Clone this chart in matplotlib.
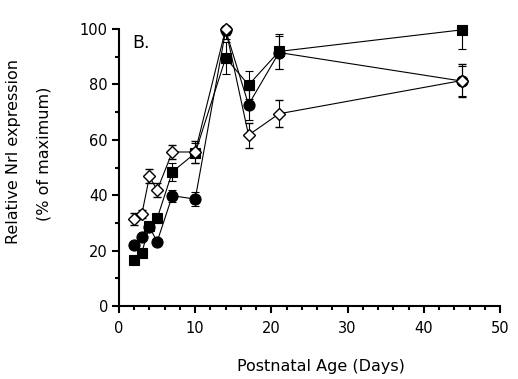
import matplotlib
matplotlib.use("Agg")
import matplotlib.pyplot as plt
from matplotlib.ticker import MultipleLocator

days = [2, 3, 4, 5, 7, 10, 14, 17, 21, 45]

square_vals = [16.6, 19.3, 29.0, 31.6, 48.4, 55.2, 89.6, 79.8, 91.9, 99.7]
square_err_low  = [1.0, 1.0, 1.5, 1.5, 3.2, 3.5, 5.8, 5.0, 6.3, 7.0]
square_err_high = [1.0, 1.0, 1.5, 1.5, 3.2, 3.5, 5.8, 5.0, 6.3, 0.0]

circle_vals = [22.0, 24.8, 28.5, 23.2, 39.8, 38.6, 99.5, 72.7, 91.5, 81.2]
circle_err_low  = [1.0, 1.0, 1.5, 1.0, 2.1, 2.6, 3.0, 5.4, 6.0, 5.5]
circle_err_high = [1.0, 1.0, 1.5, 1.0, 2.1, 2.6, 0.0, 5.4, 6.0, 5.5]

diamond_vals = [31.4, 33.2, 46.8, 41.8, 55.6, 55.6, 100.0, 61.7, 69.4, 81.4]
diamond_err_low  = [2.2, 1.6, 2.5, 2.6, 2.6, 3.8, 2.0, 4.5, 4.8, 6.0]
diamond_err_high = [2.2, 1.6, 2.5, 2.6, 2.6, 3.8, 0.0, 4.5, 4.8, 6.0]

x_ticks = [0, 10, 20, 30, 40, 50]
y_ticks = [0, 20, 40, 60, 80, 100]

fig = plt.figure(figsize=(5.18, 3.79), dpi=100)
ax = fig.add_axes([119/518, 1-306/379, (500-119)/518, (306-29)/379])

common = dict(color="black", lw=0.8, elinewidth=0.8, capsize=2.6, capthick=1.1)

def draw(vals, lo, hi, fmt, ms, mfc, mew, z):
    cont = ax.errorbar(days, vals, yerr=[lo, hi], fmt=fmt, ms=ms, mfc=mfc, mec="black",
                       mew=mew, zorder=z, **common)
    for art in cont.get_children():
        art.set_clip_on(False)

draw(circle_vals, circle_err_low, circle_err_high, "-o", 8.0, "black", 0.8, 2)
draw(square_vals, square_err_low, square_err_high, "-s", 7.6, "black", 0.8, 3)
draw(diamond_vals, diamond_err_low, diamond_err_high, "-D", 6.0, "white", 1.0, 4)

ax.set_xlim(0, 50)
ax.set_ylim(0, 100)
ax.set_xticks(x_ticks)
ax.set_yticks(y_ticks)
ax.xaxis.set_minor_locator(MultipleLocator(2))
ax.yaxis.set_minor_locator(MultipleLocator(10))

for side in ["top", "right"]:
    ax.spines[side].set_visible(False)
for side in ["left", "bottom"]:
    ax.spines[side].set_linewidth(1.5)

ax.tick_params(which="major", direction="out", length=5, width=1.5, labelsize=10.5)
ax.tick_params(which="minor", direction="out", length=3, width=1.5)
ax.tick_params(axis="x", which="major", pad=6)
ax.tick_params(axis="y", which="major", pad=3)

ax.text(0.035, 0.95, "B.", transform=ax.transAxes, fontsize=12.5, ha="left", va="center")

fig.text(321/518, 1-367/379, "Postnatal Age (Days)", ha="center", va="center", fontsize=11.5)
fig.text(14/518, 1-152/379, "Relative Nrl expression", ha="center", va="center",
         rotation=90, fontsize=11.5)
fig.text(44/518, 1-154/379, "(% of maximum)", ha="center", va="center",
         rotation=90, fontsize=11.5)

fig.savefig("out.png", dpi=100)
